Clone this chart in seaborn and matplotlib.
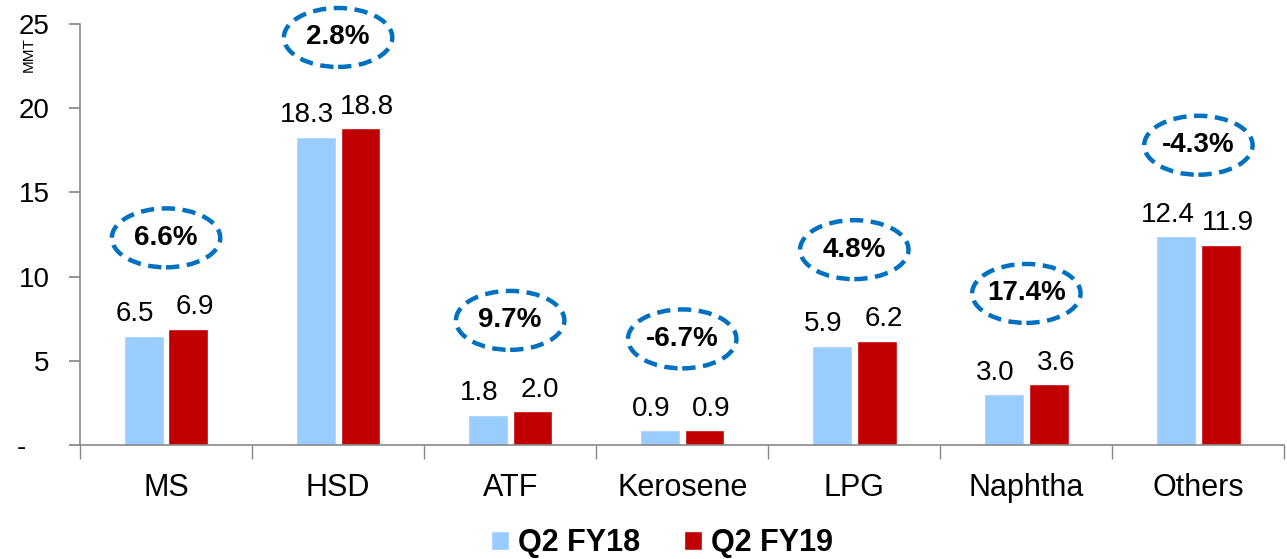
import matplotlib
matplotlib.use("Agg")
import matplotlib.pyplot as plt
import seaborn as sns
import pandas as pd
import numpy as np
from matplotlib.patches import Ellipse, Patch

categories = ["MS", "HSD", "ATF", "Kerosene", "LPG", "Naphtha", "Others"]
q2_fy18 = [6.5, 18.3, 1.8, 0.9, 5.9, 3.0, 12.4]
q2_fy19 = [6.9, 18.8, 2.0, 0.9, 6.2, 3.6, 11.9]
growth = ["6.6%", "2.8%", "9.7%", "-6.7%", "4.8%", "17.4%", "-4.3%"]
series = ["Q2 FY18", "Q2 FY19"]
yticks = [0, 5, 10, 15, 20, 25]
ytick_labels = ["-   ", "5", "10", "15", "20", "25"]

colors = ["#99CCFF", "#C00000"]

sns.set_theme(style="white")
plt.rcParams["font.family"] = ["Liberation Sans", "DejaVu Sans"]
plt.rcParams["text.color"] = "black"
plt.rcParams["xtick.color"] = "black"
plt.rcParams["ytick.color"] = "black"
plt.rcParams["axes.labelcolor"] = "black"

df = pd.DataFrame({
    "cat": categories * 2,
    "val": q2_fy18 + q2_fy19,
    "series": [series[0]] * len(categories) + [series[1]] * len(categories),
})

W, H = 1287, 559
fig = plt.figure(figsize=(W / 100, H / 100), dpi=100)
ax = fig.add_axes([80 / W, 1 - 445 / H, 1 - 80 / W - 0.002, (445 - 24) / H])

sns.barplot(data=df, x="cat", y="val", hue="series", palette=colors,
            width=0.52, gap=0.11, saturation=1, ax=ax, legend=False)

# value labels, nudged slightly outward as in the original
for cont, vals, dx in zip(ax.containers, [q2_fy18, q2_fy19], [-6, 5]):
    for bar, v in zip(cont, vals):
        xc = bar.get_x() + bar.get_width() / 2
        ax.annotate(f"{v:.1f}", xy=(xc, bar.get_height()), xytext=(dx, 6),
                    textcoords="offset points", ha="center", va="bottom",
                    fontsize=20)

for i, g in enumerate(growth):
    y = max(q2_fy18[i], q2_fy19[i]) + 5.4
    e = Ellipse((i, y), 0.63, 3.5, fill=False, ec="#0070C0", lw=3.2,
                ls=(0, (3, 1.7)), clip_on=False)
    ax.add_patch(e)
    ax.text(i, y, g, ha="center", va="center", fontsize=20, fontweight="bold",
            clip_on=False)

ax.set_xlim(-0.5, len(categories) - 0.5)
ax.set_ylim(0, 25)
ax.set_yticks(yticks)
ax.set_yticklabels(ytick_labels, fontsize=20)
ax.set_xticks(range(len(categories)))
ax.set_xticklabels(categories, fontsize=22)
ax.set_xticks(np.arange(-0.5, len(categories), 1), minor=True)
ax.set_xlabel("")
ax.set_ylabel("")

for s in ["top", "right"]:
    ax.spines[s].set_visible(False)
for s in ["left", "bottom"]:
    ax.spines[s].set_color("#888888")
    ax.spines[s].set_linewidth(1.2)

ax.tick_params(axis="y", left=True, length=8, color="#888888", pad=14)
ax.tick_params(axis="x", which="major", bottom=True, length=0, pad=20)
ax.tick_params(axis="x", which="minor", bottom=True, length=10, color="#888888")

fig.text(29 / W, 1 - 55 / H, "MMT", rotation=90, fontsize=11, ha="center", va="center")

handles = [Patch(facecolor=c) for c in colors]
fig.legend(handles, series, loc="center", bbox_to_anchor=(662 / W, 16 / H), ncol=2,
           frameon=False, prop={"weight": "bold", "size": 22},
           handlelength=0.6, handleheight=0.6, handletextpad=0.3, columnspacing=1.4,
           borderpad=0.1)

fig.savefig("out.png", dpi=100)
